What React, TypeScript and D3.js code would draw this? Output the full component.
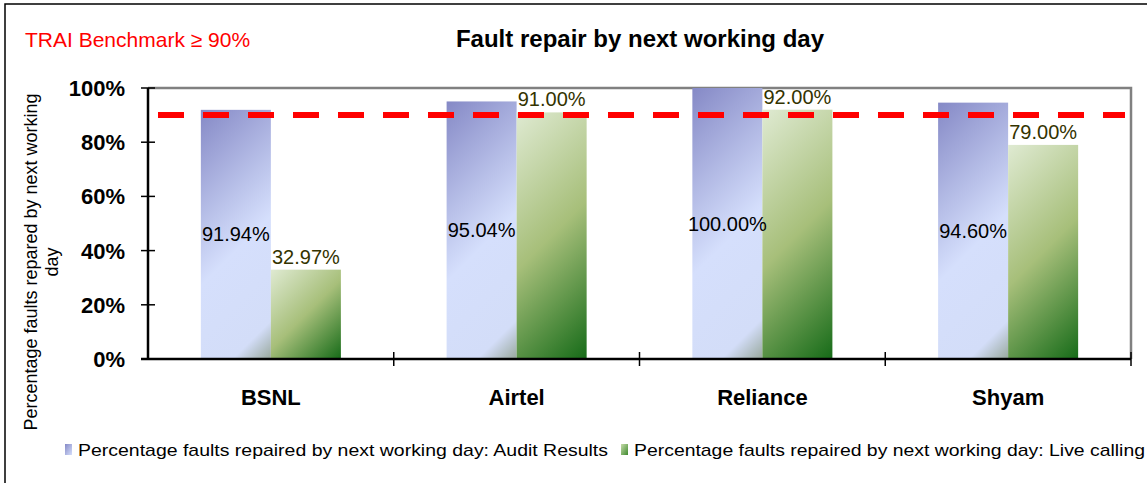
import React from "react";
import * as d3 from "d3";

const categories = ["BSNL", "Airtel", "Reliance", "Shyam"];
const seriesNames = [
  "Percentage faults repaired  by next working day: Audit Results",
  "Percentage faults repaired  by next working day: Live calling",
];
const auditValues = [91.94, 95.04, 100.0, 94.6];
const liveValues = [32.97, 91.0, 92.0, 79.0];
const yTicks = [0, 20, 40, 60, 80, 100];
const benchmark = 90;
const titleText = "Fault repair by next working day";
const benchmarkText = "TRAI Benchmark \u2265 90%";
const yTitleLines = ["Percentage faults repared by next working", "day"];

const W = 1147;
const H = 483;
const FONT = "'Liberation Sans', Arial, sans-serif";

export default function App() {
  const plotLeft = 148;
  const plotRight = 1131;
  const plotTop = 88;
  const plotBottom = 359;

  const y = d3.scaleLinear().domain([0, 100]).range([plotBottom, plotTop]);
  const x = d3.scaleBand<string>().domain(categories).range([plotLeft, plotRight]).padding(0);
  const xs = d3
    .scaleBand<number>()
    .domain([0, 1])
    .range([0, x.bandwidth()])
    .paddingInner(0)
    .paddingOuter(0.755);

  const series = [auditValues, liveValues];

  const bars: any[] = [];
  categories.forEach((c, i) => {
    series.forEach((vals, s) => {
      const bx = (x(c) as number) + (xs(s) as number);
      const bw = xs.bandwidth();
      const by = y(vals[i]);
      const bh = plotBottom - by;
      bars.push({ c, i, s, v: vals[i], bx, bw, by, bh });
    });
  });

  const fmt = (v: number) => v.toFixed(2) + "%";

  return (
    <svg
      width={W}
      height={H}
      style={{ position: "absolute", left: 0, top: 0, background: "#fff" }}
      fontFamily={FONT}
    >
      <defs>
        {bars.map((b) => {
          const L = (b.bw + b.bh) / 2;
          const id = `g${b.i}_${b.s}`;
          return b.s === 0 ? (
            <linearGradient
              key={id}
              id={id}
              gradientUnits="userSpaceOnUse"
              x1={b.bx}
              y1={b.by}
              x2={b.bx + L}
              y2={b.by + L}
            >
              <stop offset="0" stopColor="#8589c6" />
              <stop offset="0.55" stopColor="#d5dffc" />
              <stop offset="0.88" stopColor="#d3ddf8" />
              <stop offset="1" stopColor="#98a89c" />
            </linearGradient>
          ) : (
            <linearGradient
              key={id}
              id={id}
              gradientUnits="userSpaceOnUse"
              x1={b.bx}
              y1={b.by}
              x2={b.bx + L}
              y2={b.by + L}
            >
              <stop offset="0" stopColor="#dfead2" />
              <stop offset="0.5" stopColor="#a7bf7a" />
              <stop offset="1" stopColor="#166b18" />
            </linearGradient>
          );
        })}
        <linearGradient id="leg0" x1="0" y1="0" x2="1" y2="1">
          <stop offset="0" stopColor="#8589c6" />
          <stop offset="1" stopColor="#d5dffc" />
        </linearGradient>
        <linearGradient id="leg1" x1="0" y1="0" x2="1" y2="1">
          <stop offset="0" stopColor="#c6dcaa" />
          <stop offset="1" stopColor="#3f8a2e" />
        </linearGradient>
      </defs>

      {/* outer border */}
      <rect x={5} y={4} width={W + 10} height={H + 10} fill="none" stroke="#000" strokeWidth={1.5} />

      {/* title */}
      <text x={640} y={47} textAnchor="middle" fontSize={24} fontWeight="bold" fill="#000">
        {titleText}
      </text>
      <text x={25} y={47} fontSize={21} fill="#ff0000">
        {benchmarkText}
      </text>

      {/* plot frame (top/right gray) */}
      <path
        d={`M${plotLeft},${plotTop}H${plotRight}V${plotBottom}`}
        fill="none"
        stroke="#808080"
        strokeWidth={2.5}
      />

      {/* bars */}
      {bars.map((b) => (
        <rect key={`r${b.i}_${b.s}`} x={b.bx} y={b.by} width={b.bw} height={b.bh} fill={`url(#g${b.i}_${b.s})`} />
      ))}

      {/* benchmark line */}
      <line
        x1={158}
        x2={1125}
        y1={y(benchmark)}
        y2={y(benchmark)}
        stroke="#ff0000"
        strokeWidth={6}
        strokeDasharray="26 19"
      />

      {/* data labels */}
      {bars.map((b) =>
        b.s === 0 ? (
          <text
            key={`t${b.i}_${b.s}`}
            x={b.bx + b.bw / 2}
            y={b.by + b.bh / 2 + 7}
            textAnchor="middle"
            fontSize={20}
            fill="#000"
          >
            {fmt(b.v)}
          </text>
        ) : (
          <text
            key={`t${b.i}_${b.s}`}
            x={b.bx + b.bw / 2}
            y={b.by - 6}
            textAnchor="middle"
            fontSize={20}
            fill="#333300"
          >
            {fmt(b.v)}
          </text>
        )
      )}

      {/* y axis */}
      <line x1={plotLeft} x2={plotLeft} y1={plotTop} y2={plotBottom} stroke="#000" strokeWidth={2.5} />
      {yTicks.map((t) => (
        <g key={`yt${t}`}>
          <line x1={plotLeft - 7} x2={plotLeft + 7} y1={y(t)} y2={y(t)} stroke="#000" strokeWidth={1.5} />
          <text x={125} y={y(t) + 8} textAnchor="end" fontSize={22} fontWeight="bold" fill="#000">
            {t}%
          </text>
        </g>
      ))}

      {/* x axis */}
      <line x1={plotLeft - 7} x2={plotRight} y1={plotBottom} y2={plotBottom} stroke="#000" strokeWidth={2.5} />
      {categories.map((c, i) => (
        <g key={`xc${c}`}>
          {i > 0 && (
            <line x1={x(c) as number} x2={x(c) as number} y1={plotBottom - 7} y2={plotBottom + 7} stroke="#000" strokeWidth={1.5} />
          )}
          <text
            x={(x(c) as number) + x.bandwidth() / 2}
            y={405}
            textAnchor="middle"
            fontSize={22}
            fontWeight="bold"
            fill="#000"
          >
            {c}
          </text>
        </g>
      ))}
      <line x1={plotRight} x2={plotRight} y1={plotBottom - 7} y2={plotBottom + 7} stroke="#000" strokeWidth={1.5} />

      {/* y title */}
      <g transform={`translate(37,262) rotate(-90)`}>
        <text x={0} y={0} textAnchor="middle" fontSize={18} fill="#000">
          {yTitleLines[0]}
        </text>
        <text x={0} y={21} textAnchor="middle" fontSize={18} fill="#000">
          {yTitleLines[1]}
        </text>
      </g>

      {/* legend */}
      <rect x={65} y={444} width={7} height={11} fill="url(#leg0)" />
      <text x={78} y={456} fontSize={17} textLength={530} lengthAdjust="spacingAndGlyphs" fill="#000">
        {seriesNames[0]}
      </text>
      <rect x={621} y={444} width={7} height={11} fill="url(#leg1)" />
      <text x={634} y={456} fontSize={17} textLength={511} lengthAdjust="spacingAndGlyphs" fill="#000">
        {seriesNames[1]}
      </text>
    </svg>
  );
}
